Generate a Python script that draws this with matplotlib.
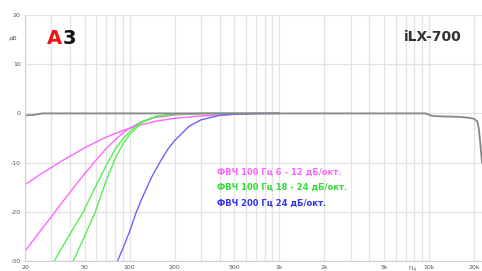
import numpy as np
import matplotlib
matplotlib.use("Agg")
import matplotlib.pyplot as plt
from matplotlib.ticker import FixedLocator, NullFormatter

# frequency response values (Hz, dB)
flat_f = [20, 23, 26, 100, 1000, 9500, 10500, 12000, 16000, 18500, 20000, 21000, 21500, 22000, 22600]
flat_db = [-0.4, -0.3, 0.0, 0.0, 0.0, 0.0, -0.5, -0.6, -0.7, -0.9, -1.1, -1.6, -3.0, -6.0, -10.0]

hpf6_f = [20, 25, 30, 35, 40, 45, 50, 60, 70, 80, 90, 100, 120, 150, 200, 300, 500, 1000]
hpf6_db = [-14.5, -12.5, -11.0, -9.7, -8.7, -7.8, -7.0, -5.8, -4.8, -4.1, -3.5, -3.0, -2.3, -1.6, -1.0, -0.5, -0.2, 0.0]

hpf12_f = [20, 25, 30, 35, 40, 45, 50, 60, 70, 80, 90, 100, 120, 150, 200, 300, 500, 1000]
hpf12_db = [-28.0, -24.1, -21.0, -18.3, -16.0, -14.0, -12.3, -9.4, -7.1, -5.4, -4.0, -3.0, -1.7, -0.8, -0.3, -0.05, 0.0, 0.0]

hpf18_f = [30, 35, 40, 49, 60, 70, 80, 90, 100, 120, 150, 200, 300, 1000]
hpf18_db = [-31.0, -27.5, -24.5, -20.0, -14.5, -10.5, -7.3, -5.2, -3.7, -1.7, -0.6, -0.15, 0.0, 0.0]

hpf24_f = [40, 42, 50, 59, 70, 80, 90, 100, 120, 150, 200, 300, 1000]
hpf24_db = [-31.5, -30.0, -25.0, -20.0, -13.5, -9.2, -6.3, -4.3, -1.9, -0.6, -0.15, 0.0, 0.0]

hpf200_f = [80, 83, 90, 100, 110, 120, 140, 160, 180, 200, 250, 300, 400, 500, 700, 1000]
hpf200_db = [-31.5, -30.0, -27.5, -24.0, -20.3, -17.5, -13.0, -9.8, -7.3, -5.5, -2.6, -1.3, -0.4, -0.15, 0.0, 0.0]

xtick_vals = [20, 50, 100, 200, 500, 1000, 2000, 5000, 10000, 20000]
xtick_labels = ["20", "50", "100", "200", "500", "1k", "2k", "5k", "10k", "20k"]
ytick_vals = [-30, -20, -10, 0, 10, 20]
legend_lines = ["ФВЧ 100 Гц 6 - 12 дБ/окт.",
                "ФВЧ 100 Гц 18 - 24 дБ/окт.",
                "ФВЧ 200 Гц 24 дБ/окт."]

magenta = "#ff66ff"
green = "#55ee55"
blue = "#6666ff"

fig = plt.figure(figsize=(4.82, 2.71), dpi=100)
ax = fig.add_axes([25 / 482, 10 / 271, 457 / 482, 246 / 271])

ax.set_xscale("log")
ax.set_xlim(20, 22600)
ax.set_ylim(-30, 20)

# grid
minor = [m * 10 ** e for e in range(1, 5) for m in range(1, 10)]
minor = [v for v in minor if 20 <= v <= 20000]
ax.xaxis.set_major_locator(FixedLocator(xtick_vals))
ax.xaxis.set_minor_locator(FixedLocator(minor))
ax.xaxis.set_minor_formatter(NullFormatter())
ax.set_xticklabels(xtick_labels)
ax.set_yticks(ytick_vals)
ax.set_yticklabels([str(v) for v in ytick_vals])
ax.grid(True, which="both", axis="x", color="#e3e3e3", lw=0.9)
ax.grid(True, axis="y", color="#e3e3e3", lw=0.9)
ax.tick_params(which="both", length=0, labelsize=4.5, labelcolor="#555555", pad=3)
for s in ax.spines.values():
    s.set_visible(False)
ax.spines["left"].set_visible(True)
ax.spines["bottom"].set_visible(True)
ax.spines["left"].set_color("#d0d0d0")
ax.spines["bottom"].set_color("#d0d0d0")
ax.set_axisbelow(True)

ax.plot(hpf6_f, hpf6_db, color=magenta, lw=1.0)
ax.plot(hpf12_f, hpf12_db, color=magenta, lw=1.0)
ax.plot(hpf18_f, hpf18_db, color=green, lw=1.0)
ax.plot(hpf24_f, hpf24_db, color=green, lw=1.0)
ax.plot(hpf200_f, hpf200_db, color=blue, lw=1.0)
ax.plot(flat_f, flat_db, color="#888888", lw=1.3)

# labels
fig.text(13 / 482, 1 - 38 / 271, "дБ", fontsize=4.5, color="#555555", ha="center", va="center")
fig.text(412 / 482, 1 - 268 / 271, "Гц", fontsize=4.5, color="#555555", ha="center", va="center")
fig.text(433 / 482, 1 - 37 / 271, "iLX-700", fontsize=10, fontweight="bold", color="#333333",
         ha="center", va="center")

# logo
fig.text(47 / 482, 1 - 39 / 271, "A", fontsize=14, fontweight="heavy", color="#ee1111",
         ha="left", va="center")
fig.text(63 / 482, 1 - 39 / 271, "3", fontsize=14, fontweight="heavy", color="#111111",
         ha="left", va="center")

colors = [magenta, "#33dd33", "#3333ee"]
for i, (txt, c) in enumerate(zip(legend_lines, colors)):
    fig.text(217 / 482, 1 - (172 + 15.5 * i) / 271, txt, fontsize=6, fontweight="bold",
             color=c, ha="left", va="center")

fig.savefig("out.png", dpi=100)
